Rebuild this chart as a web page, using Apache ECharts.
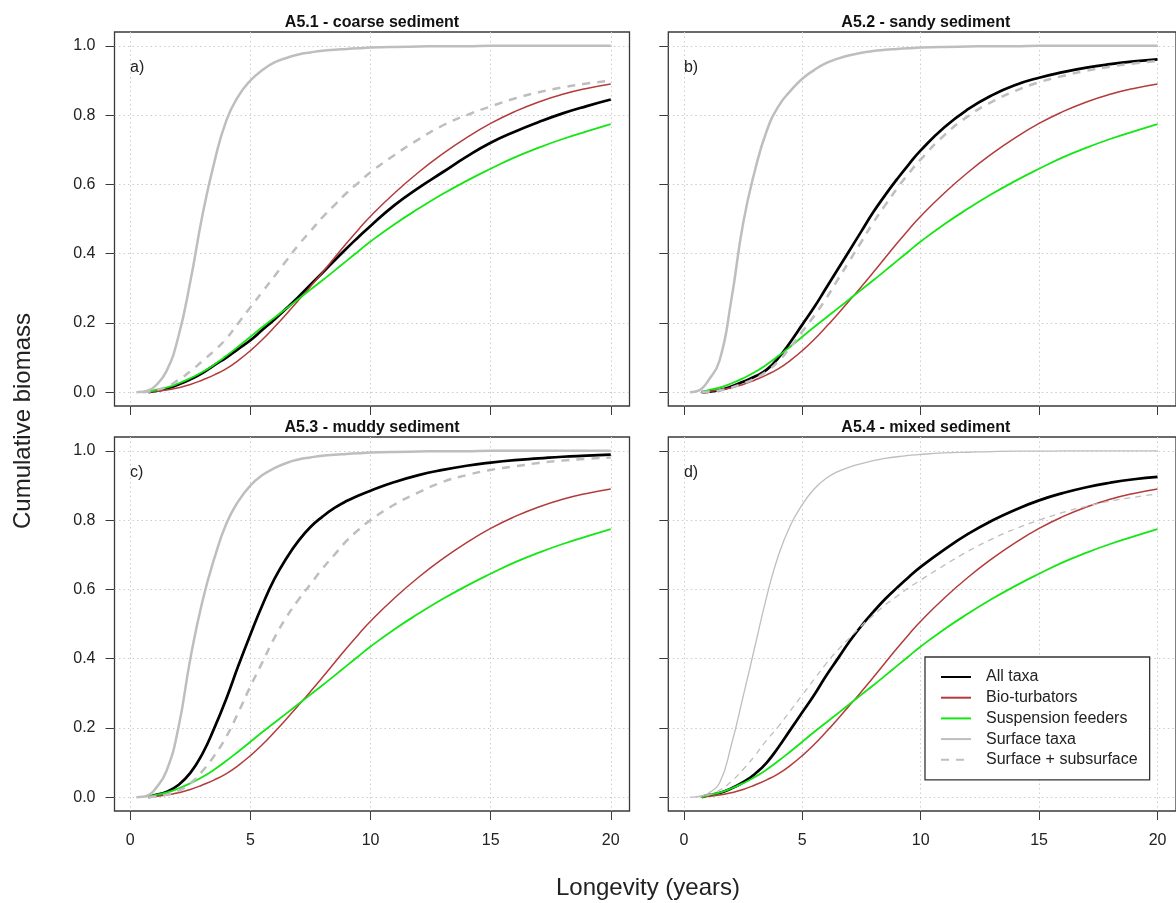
<!DOCTYPE html>
<html>
<head>
<meta charset="utf-8">
<script src="https://cdn.jsdelivr.net/npm/echarts@6/dist/echarts.min.js"></script>
<style>html,body{margin:0;padding:0;background:#fff;}#c{width:1176px;height:903px;}</style>
</head>
<body>
<div id="c"></div>
<script>
// ---------------- data ----------------
const seriesNames = ['All taxa', 'Bio-turbators', 'Suspension feeders', 'Surface taxa', 'Surface + subsurface'];
const panelTitles = ['A5.1 - coarse sediment', 'A5.2 - sandy sediment', 'A5.3 - muddy sediment', 'A5.4 - mixed sediment'];
const panelLetters = ['a)', 'b)', 'c)', 'd)'];
const xTickValues = [0, 5, 10, 15, 20];
const yTickValues = [0, 0.2, 0.4, 0.6, 0.8, 1.0];
const xAxisTitle = 'Longevity (years)';
const yAxisTitle = 'Cumulative biomass';

// longevity (years) sample points
const X = [0.25, 0.5, 0.75, 1, 1.5, 2, 2.5, 3, 3.5, 4, 4.5, 5, 5.5, 6, 6.5, 7, 7.5, 8, 8.5, 9, 9.5, 10, 11, 12, 13, 14, 15, 16, 17, 18, 19, 20];

// Bio-turbators and Suspension feeders are the same in every panel
const bioTurbators = [null, null, 0, 0.002, 0.006, 0.013, 0.022, 0.035, 0.05, 0.068, 0.092, 0.12, 0.152, 0.188, 0.226, 0.265, 0.305, 0.346, 0.388, 0.43, 0.47, 0.508, 0.575, 0.635, 0.688, 0.735, 0.776, 0.81, 0.838, 0.86, 0.877, 0.89];
const suspensionFeeders = [null, null, 0, 0.005, 0.013, 0.025, 0.04, 0.058, 0.08, 0.105, 0.132, 0.16, 0.188, 0.215, 0.242, 0.269, 0.296, 0.323, 0.351, 0.379, 0.407, 0.435, 0.485, 0.53, 0.572, 0.61, 0.645, 0.678, 0.706, 0.731, 0.753, 0.774];

// a) coarse
const allTaxaA = [null, null, 0, 0.003, 0.01, 0.022, 0.037, 0.055, 0.078, 0.1, 0.125, 0.15, 0.18, 0.21, 0.242, 0.275, 0.31, 0.345, 0.38, 0.415, 0.448, 0.48, 0.54, 0.59, 0.635, 0.68, 0.72, 0.752, 0.78, 0.805, 0.826, 0.845];
const surfaceA = [0, 0.001, 0.005, 0.015, 0.06, 0.16, 0.32, 0.51, 0.665, 0.785, 0.855, 0.9, 0.93, 0.952, 0.965, 0.975, 0.981, 0.986, 0.989, 0.991, 0.993, 0.995, 0.997, 0.998, 0.999, 0.999, 1, 1, 1, 1, 1, 1];
const surfSubA = [null, 0, 0.002, 0.005, 0.015, 0.035, 0.06, 0.09, 0.12, 0.155, 0.2, 0.245, 0.29, 0.335, 0.38, 0.425, 0.465, 0.505, 0.54, 0.575, 0.605, 0.635, 0.685, 0.73, 0.77, 0.8, 0.825, 0.848, 0.866, 0.88, 0.891, 0.9];

// b) sandy
const allTaxaB = [null, null, 0, 0.001, 0.006, 0.016, 0.03, 0.045, 0.065, 0.1, 0.145, 0.195, 0.245, 0.3, 0.355, 0.41, 0.465, 0.52, 0.569, 0.615, 0.658, 0.698, 0.765, 0.817, 0.857, 0.887, 0.908, 0.924, 0.937, 0.947, 0.955, 0.961];
const surfaceB = [0, 0.002, 0.01, 0.03, 0.09, 0.265, 0.487, 0.64, 0.755, 0.826, 0.87, 0.905, 0.93, 0.95, 0.963, 0.973, 0.98, 0.985, 0.989, 0.991, 0.993, 0.995, 0.997, 0.998, 0.999, 0.999, 1, 1, 1, 1, 1, 1];
const surfSubB = [null, null, 0, 0.001, 0.005, 0.013, 0.025, 0.04, 0.06, 0.09, 0.13, 0.175, 0.22, 0.27, 0.325, 0.38, 0.435, 0.49, 0.54, 0.588, 0.632, 0.672, 0.742, 0.797, 0.838, 0.87, 0.895, 0.913, 0.928, 0.94, 0.949, 0.956];

// c) muddy
const allTaxaC = [null, null, 0, 0.005, 0.015, 0.035, 0.07, 0.125, 0.2, 0.285, 0.38, 0.47, 0.555, 0.63, 0.69, 0.74, 0.78, 0.81, 0.835, 0.855, 0.871, 0.885, 0.91, 0.93, 0.945, 0.957, 0.966, 0.973, 0.978, 0.983, 0.986, 0.989];
const surfaceC = [0, 0.001, 0.006, 0.02, 0.075, 0.2, 0.4, 0.565, 0.69, 0.79, 0.855, 0.9, 0.93, 0.95, 0.965, 0.975, 0.981, 0.986, 0.989, 0.991, 0.993, 0.995, 0.997, 0.998, 0.999, 0.999, 1, 1, 1, 1, 1, 1];
const surfSubC = [null, null, 0, 0.002, 0.007, 0.018, 0.04, 0.075, 0.12, 0.175, 0.245, 0.32, 0.39, 0.46, 0.52, 0.57, 0.615, 0.66, 0.7, 0.74, 0.772, 0.8, 0.845, 0.88, 0.91, 0.93, 0.945, 0.955, 0.965, 0.972, 0.977, 0.981];

// d) mixed
const allTaxaD = [null, null, 0, 0.005, 0.012, 0.025, 0.043, 0.067, 0.1, 0.145, 0.195, 0.245, 0.295, 0.35, 0.4, 0.45, 0.495, 0.535, 0.572, 0.605, 0.636, 0.665, 0.715, 0.76, 0.798, 0.83, 0.857, 0.878, 0.895, 0.908, 0.918, 0.925];
const surfaceD = [0, 0.001, 0.004, 0.01, 0.04, 0.15, 0.29, 0.435, 0.58, 0.7, 0.785, 0.845, 0.89, 0.92, 0.94, 0.953, 0.963, 0.972, 0.978, 0.983, 0.987, 0.99, 0.994, 0.996, 0.998, 0.999, 0.999, 1, 1, 1, 1, 1];
const surfSubD = [null, 0, 0.003, 0.006, 0.02, 0.045, 0.08, 0.12, 0.165, 0.205, 0.25, 0.295, 0.34, 0.385, 0.425, 0.46, 0.495, 0.525, 0.555, 0.58, 0.605, 0.627, 0.67, 0.71, 0.745, 0.775, 0.8, 0.822, 0.84, 0.855, 0.866, 0.876];

const panelData = [
  [allTaxaA, bioTurbators, suspensionFeeders, surfaceA, surfSubA],
  [allTaxaB, bioTurbators, suspensionFeeders, surfaceB, surfSubB],
  [allTaxaC, bioTurbators, suspensionFeeders, surfaceC, surfSubC],
  [allTaxaD, bioTurbators, suspensionFeeders, surfaceD, surfSubD]
];

// ---------------- layout / style ----------------
const FONT = '"Liberation Sans", Arial, Helvetica, sans-serif';
const boxLeft = [114.5, 668.3, 114.5, 668.3];
const boxTop = [32, 32, 437, 437];
const boxW = 515, boxH = 374;
const xMin = -0.658, xMax = 20.78;
const yMin = -0.04, yMax = 1.04;

function lineStyleFor(si, panel) {
  const thin = panel === 3;
  switch (si) {
    case 0: return { color: '#000000', width: 2.7 };
    case 1: return { color: '#b23b3b', width: 1.5 };
    case 2: return { color: '#14e614', width: 1.8 };
    case 3: return { color: '#bebebe', width: thin ? 1.3 : 2.5 };
    case 4: return { color: '#bebebe', width: thin ? 1.3 : 2.5, type: thin ? [6, 5] : [8, 7] };
  }
}

const grids = [], xAxes = [], yAxes = [], series = [], graphics = [];
for (let p = 0; p < 4; p++) {
  grids.push({
    left: boxLeft[p], top: boxTop[p], width: boxW, height: boxH,
    show: true, borderColor: '#3a3a3a', borderWidth: 1.3, backgroundColor: 'rgba(0,0,0,0)'
  });
  xAxes.push({
    gridIndex: p, type: 'value', min: xMin, max: xMax, position: 'bottom',
    axisLine: { show: false, onZero: false },
    axisTick: { show: true, inside: false, customValues: xTickValues, length: 9, lineStyle: { color: '#3a3a3a', width: 1 } },
    axisLabel: { show: p >= 2, customValues: xTickValues, margin: 22, fontSize: 16, color: '#222', fontFamily: FONT },
    splitLine: { show: true, lineStyle: { color: '#cccccc', width: 1, type: [1.5, 3] } }
  });
  yAxes.push({
    gridIndex: p, type: 'value', min: yMin, max: yMax, position: 'left',
    axisLine: { show: false, onZero: false },
    axisTick: { show: true, inside: false, customValues: yTickValues, length: 9, lineStyle: { color: '#3a3a3a', width: 1 } },
    axisLabel: { show: p % 2 === 0, customValues: yTickValues, margin: 19, fontSize: 16, color: '#222', fontFamily: FONT,
      formatter: v => Number(v).toFixed(1) },
    splitLine: { show: true, lineStyle: { color: '#cccccc', width: 1, type: [1.5, 3] } }
  });
  panelData[p].forEach((ys, si) => {
    const pts = [];
    X.forEach((x, k) => { if (ys[k] !== null) pts.push([x, ys[k]]); });
    const ls = lineStyleFor(si, p);
    series.push({
      name: seriesNames[si], type: 'line', xAxisIndex: p, yAxisIndex: p,
      data: pts, smooth: 0.5, symbol: 'none', showSymbol: false,
      itemStyle: { color: ls.color },
      lineStyle: ls, silent: true, z: 2 + si * 0.1
    });
  });
  // panel title
  graphics.push({
    type: 'text', x: boxLeft[p] + boxW / 2, y: boxTop[p] - 9,
    style: { text: panelTitles[p], fill: '#111', font: 'bold 16px ' + FONT,
      textAlign: 'center', textVerticalAlign: 'middle', align: 'center', verticalAlign: 'middle' }
  });
  // panel letter
  graphics.push({
    type: 'text', x: boxLeft[p] + 15.6, y: boxTop[p] + 35.5,
    style: { text: panelLetters[p], fill: '#222', font: '16px ' + FONT,
      textAlign: 'left', textVerticalAlign: 'middle', align: 'left', verticalAlign: 'middle' }
  });
}
graphics.push({
  type: 'text', x: 648, y: 888,
  style: { text: xAxisTitle, fill: '#222', font: '24px ' + FONT,
    textAlign: 'center', textVerticalAlign: 'middle', align: 'center', verticalAlign: 'middle' }
});
graphics.push({
  type: 'text', x: 23, y: 421, rotation: Math.PI / 2,
  style: { text: yAxisTitle, fill: '#222', font: '24px ' + FONT,
    textAlign: 'center', textVerticalAlign: 'middle', align: 'center', verticalAlign: 'middle' }
});

const chart = echarts.init(document.getElementById('c'), null, { renderer: 'canvas' });
chart.setOption({
  animation: false,
  backgroundColor: '#ffffff',
  grid: grids, xAxis: xAxes, yAxis: yAxes, series: series,
  graphic: graphics,
  legend: {
    data: seriesNames, orient: 'vertical', left: 925, top: 657,
    selectedMode: false, backgroundColor: '#ffffff',
    borderColor: '#333333', borderWidth: 1.3, borderRadius: 0,
    padding: [12, 12, 12, 15],
    itemWidth: 30, itemHeight: 14, itemGap: 4.7,
    itemStyle: { color: 'rgba(0,0,0,0)', borderWidth: 0, opacity: 0 },
    textStyle: { fontSize: 16, lineHeight: 16, color: '#222', fontFamily: FONT, padding: [0, 0, 0, 10] }
  }
});
</script>
</body>
</html>
